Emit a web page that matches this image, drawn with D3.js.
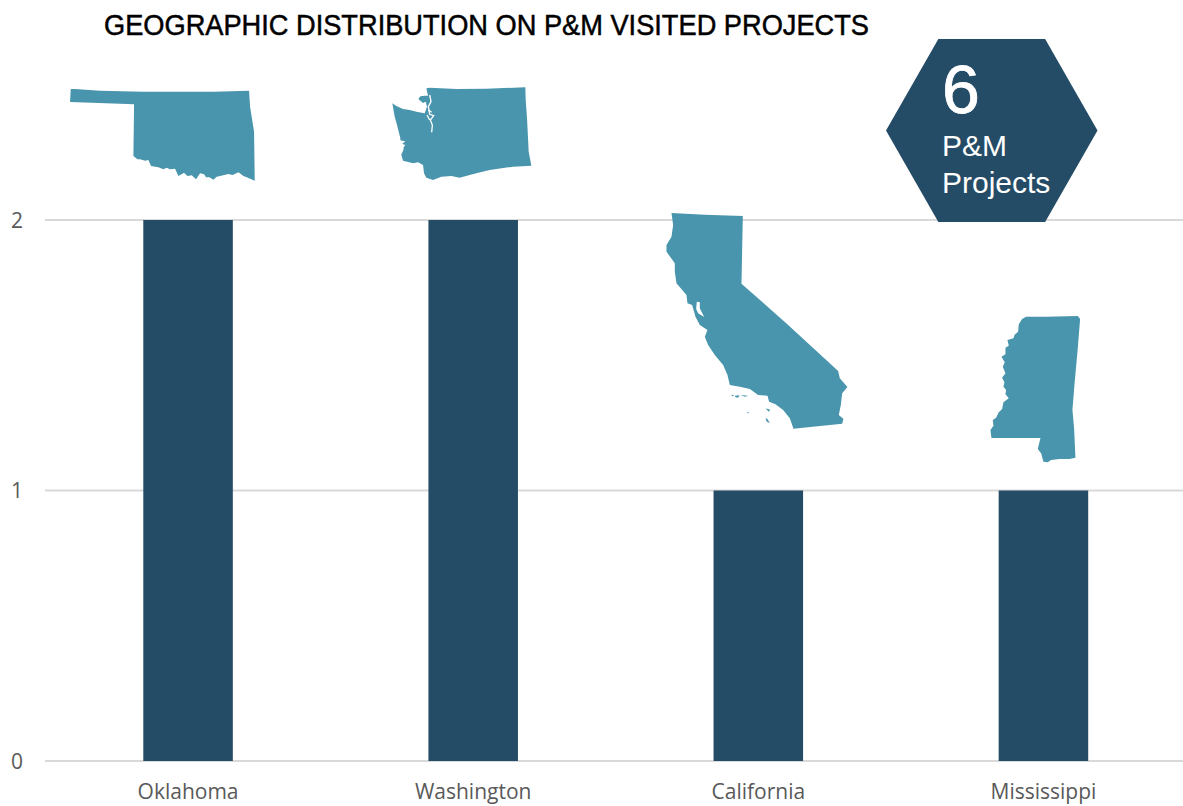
<!DOCTYPE html>
<html>
<head>
<meta charset="utf-8">
<style>
html,body{margin:0;padding:0;background:#fff;overflow:hidden}
svg{display:block}
</style>
<script src="https://cdnjs.cloudflare.com/ajax/libs/d3/7.8.5/d3.min.js"></script>
</head>
<body>
<svg id="chart" width="1183" height="806"></svg>
<script>
// Project counts per state
const states = ["Oklahoma", "Washington", "California", "Mississippi"];
const projects = [2, 2, 1, 1];
const yTicks = [0, 1, 2];
const titleText = "GEOGRAPHIC DISTRIBUTION ON P&M VISITED PROJECTS";
const badgeValue = "6";
const badgeLines = ["P&M", "Projects"];

// State silhouettes, each in its own local outline units (3 units = 1 px)
const oklahomaOutline = [[62,57],[75,57],[150,62],[280,65],[490,65],[597,62],[600,110],[612,185],[614,332],[600,326],[590,322],[580,318],[565,307],[548,315],[535,312],[510,318],[500,320],[490,329],[478,322],[468,322],[462,313],[450,310],[438,328],[425,316],[412,318],[402,308],[385,318],[375,296],[360,298],[350,293],[340,298],[325,292],[303,288],[295,270],[285,272],[270,268],[262,268],[250,258],[252,103],[60,96]];
const washingtonOutline = [[140,40],[150,38],[230,42],[320,41],[437,37],[438,75],[442,130],[447,230],[455,272],[400,275],[330,285],[290,295],[270,300],[240,308],[215,303],[185,305],[160,315],[140,308],[133,295],[130,270],[115,262],[100,265],[70,257],[65,240],[68,222],[77,210],[62,205],[62,190],[52,150],[45,125],[38,85],[50,93],[70,102],[90,105],[110,110],[135,115],[142,95],[138,80],[130,84],[116,72],[122,64],[135,62],[145,62]];
const pugetSound = [[[150,60],[154,80],[146,95],[150,118],[162,122],[152,135],[158,150],[156,172]],[[146,105],[156,112]],[[142,120],[150,135]]];
const graysHarbor = [[60,196],[77,199],[68,206],[72,222],[66,238],[64,222]];
const californiaOutline = [[50,24],[150,29],[264,33],[260,236],[400,360],[550,498],[555,520],[578,546],[562,565],[558,600],[552,630],[566,642],[562,656],[416,671],[405,640],[385,615],[362,598],[343,590],[338,572],[310,570],[285,552],[255,545],[225,540],[218,510],[205,480],[180,450],[160,420],[150,395],[158,375],[135,360],[122,335],[112,300],[98,295],[95,270],[65,235],[60,200],[60,175],[35,140],[35,120],[50,95],[55,60]];
const sfBay = [[126,290],[135,292],[135,310],[148,336],[130,325],[124,312]];
const channelIslands = [[[230,568],[238,572],[232,574]],[[240,572],[254,571],[250,578],[242,577]],[[258,570],[280,572],[270,575]],[[276,621],[284,623],[278,625]],[[332,610],[346,614],[342,620]],[[332,640],[338,642],[345,654],[336,650]]];
const mississippiOutline = [[140,35],[200,35],[295,33],[302,42],[295,130],[285,240],[279,315],[284,370],[288,458],[270,462],[240,462],[215,465],[205,472],[192,470],[185,445],[175,432],[183,399],[36,399],[33,375],[42,362],[40,345],[50,338],[58,322],[68,312],[72,292],[88,280],[78,268],[80,255],[72,245],[75,232],[68,218],[78,205],[70,185],[76,172],[66,155],[78,148],[78,128],[88,122],[84,105],[102,100],[105,90],[116,80],[118,58],[128,42]];

// Silhouette box origin in pixels relative to each column's centre and the zero line
const outlineScale = 1 / 3;
const silhouetteFrames = [
  {shape: oklahomaOutline, dx: -138, dy: -691},
  {shape: washingtonOutline, dx: -93.5, dy: -686},
  {shape: californiaOutline, dx: -103.5, dy: -556},
  {shape: mississippiOutline, dx: -64, dy: -456}
];

// Badge corners, as fractions of its bounding box
const hexCorners = [[0.2475,0],[0.7525,0],[1,0.5],[0.7525,1],[0.2475,1],[0,0.5]];

const DARK = "#254c66", TEAL = "#4995ad", GRID = "#d9d9d9", MUTED = "#595959";
const svg = d3.select("#chart");

const x = d3.scaleBand().domain(states).range([45.5, 1186]).paddingInner(0.686).paddingOuter(0.343);
const y = d3.scaleLinear().domain([0, 2]).range([761, 220]);

// Gridlines and value labels
svg.append("g").selectAll("line").data(yTicks).join("line")
  .attr("x1", 45).attr("x2", 1183)
  .attr("y1", d => y(d)).attr("y2", d => y(d))
  .attr("stroke", GRID).attr("stroke-width", 2);

svg.append("g").selectAll("text").data(yTicks).join("text")
  .attr("x", 17).attr("y", d => y(d)).attr("dy", "0.36em")
  .attr("text-anchor", "middle")
  .attr("font-family", "'Open Sans', sans-serif").attr("font-size", 21)
  .attr("fill", MUTED).text(d => d);

// Bars
svg.append("g").selectAll("rect").data(states).join("rect")
  .attr("x", d => x(d)).attr("width", x.bandwidth())
  .attr("y", (d, i) => y(projects[i]))
  .attr("height", (d, i) => y(0) - y(projects[i]))
  .attr("fill", DARK);

// Category labels
svg.append("g").selectAll("text").data(states).join("text")
  .attr("x", d => x(d) + x.bandwidth() / 2).attr("y", 799)
  .attr("text-anchor", "middle")
  .attr("font-family", "'Open Sans', sans-serif").attr("font-size", 21)
  .attr("fill", MUTED).text(d => d);

// State silhouettes with water cut-outs
const shapes = svg.append("g");
states.forEach((s, i) => {
  const f = silhouetteFrames[i];
  const cx = x(s) + x.bandwidth() / 2;
  const sx = d3.scaleLinear().domain([0, 3]).range([cx + f.dx, cx + f.dx + 3 * outlineScale]);
  const sy = d3.scaleLinear().domain([0, 3]).range([y(0) + f.dy, y(0) + f.dy + 3 * outlineScale]);
  const area = d3.line().x(d => sx(d[0])).y(d => sy(d[1])).curve(d3.curveLinearClosed);
  const open = d3.line().x(d => sx(d[0])).y(d => sy(d[1]));
  const g = shapes.append("g");
  g.append("path").attr("d", area(f.shape)).attr("fill", TEAL);
  if (s === "Washington") {
    pugetSound.forEach(p => g.append("path").attr("d", open(p)).attr("fill", "none").attr("stroke", "#fff").attr("stroke-width", 1.3));
    g.append("path").attr("d", area(graysHarbor)).attr("fill", "#fff");
  }
  if (s === "California") {
    g.append("path").attr("d", area(sfBay)).attr("fill", "#fff");
    channelIslands.forEach(p => g.append("path").attr("d", area(p)).attr("fill", TEAL));
  }
});

// Total-projects badge
const hx = d3.scaleLinear().domain([0, 1]).range([886, 1097.5]);
const hy = d3.scaleLinear().domain([0, 1]).range([39, 222]);
svg.append("path")
  .attr("d", d3.line().x(d => hx(d[0])).y(d => hy(d[1])).curve(d3.curveLinearClosed)(hexCorners))
  .attr("fill", DARK);
svg.append("text").attr("x", 942).attr("y", 113)
  .attr("font-family", "'Liberation Sans', sans-serif").attr("font-size", 68)
  .attr("fill", "#fff").attr("stroke", "#fff").attr("stroke-width", 0.8).text(badgeValue);
svg.append("g").selectAll("text").data(badgeLines).join("text")
  .attr("x", 942).attr("y", (d, i) => 156 + i * 37)
  .attr("font-family", "'Liberation Sans', sans-serif").attr("font-size", 30)
  .attr("fill", "#fff").text(d => d);

// Title
svg.append("text").attr("x", 104).attr("y", 35)
  .attr("font-family", "'Liberation Sans', sans-serif").attr("font-size", 29)
  .attr("textLength", 765).attr("lengthAdjust", "spacingAndGlyphs")
  .attr("fill", "#000").attr("stroke", "#000").attr("stroke-width", 0.5).text(titleText);
</script>
</body>
</html>
